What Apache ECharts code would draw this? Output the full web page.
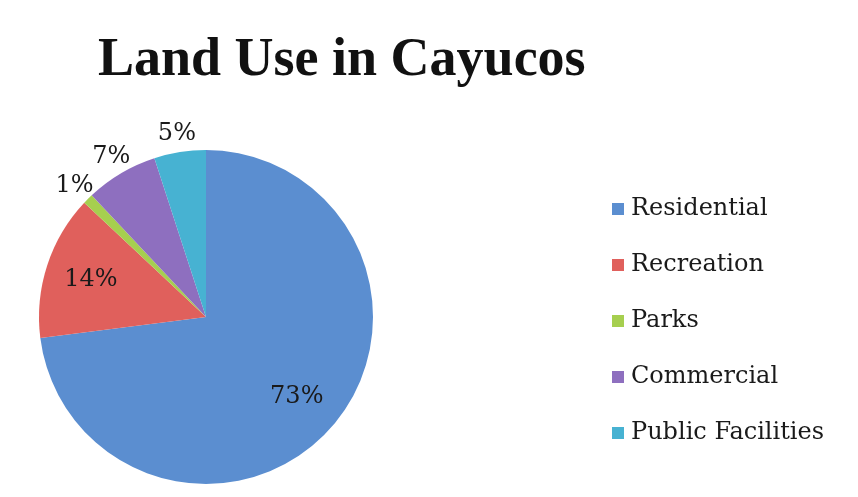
<!DOCTYPE html>
<html>
<head>
<meta charset="utf-8">
<script src="https://cdn.jsdelivr.net/npm/echarts@6/dist/echarts.min.js"></script>
<style>
html,body{margin:0;padding:0;background:#fff;}
#c{width:858px;height:497px;}
</style>
</head>
<body>
<div id="c"></div>
<script>
const titleText = 'Land Use in Cayucos';
const categories = ['Residential', 'Recreation', 'Parks', 'Commercial', 'Public Facilities'];
const values = [73, 14, 1, 7, 5];
const colors = ['#5b8ed0', '#e0605c', '#a6cf4f', '#8e6fbf', '#47b2d2'];
const insideLabelCats = ['Residential', 'Recreation'];

const chart = echarts.init(document.getElementById('c'));
const center = [206, 317];
const R = 167;
const labelFont = { fontFamily: 'DejaVu Serif', fontSize: 24, color: '#1a1a1a' };

function labelData(inside) {
  return categories.map((name, i) => ({
    name: name,
    value: values[i],
    label: { show: insideLabelCats.includes(name) === inside }
  }));
}

chart.setOption({
  backgroundColor: '#ffffff',
  animation: false,
  title: {
    text: titleText,
    left: 98,
    top: 34,
    padding: 0,
    textStyle: { fontFamily: 'Liberation Serif', fontWeight: 'bold', fontSize: 54, color: '#111' }
  },
  legend: {
    orient: 'vertical',
    left: 607,
    top: 192,
    icon: 'rect',
    itemWidth: 12,
    itemHeight: 12,
    itemGap: 32,
    data: categories,
    textStyle: { fontFamily: 'DejaVu Serif', fontSize: 24, color: '#1a1a1a', lineHeight: 24, padding: [0, 0, 0, 2] }
  },
  series: [
    {
      type: 'pie',
      center: center,
      radius: R,
      startAngle: 90,
      clockwise: true,
      silent: true,
      label: { show: false },
      labelLine: { show: false },
      itemStyle: { borderWidth: 0 },
      data: categories.map((name, i) => ({ name: name, value: values[i], itemStyle: { color: colors[i] } }))
    },
    {
      type: 'pie',
      center: center,
      radius: [0, 236],
      startAngle: 90,
      clockwise: true,
      silent: true,
      legendHoverLink: false,
      itemStyle: { color: 'rgba(0,0,0,0)' },
      label: Object.assign({ position: 'inside', formatter: '{c}%' }, labelFont),
      labelLine: { show: false },
      data: labelData(true)
    },
    {
      type: 'pie',
      center: center,
      radius: [0, 366],
      startAngle: 90,
      clockwise: true,
      silent: true,
      legendHoverLink: false,
      itemStyle: { color: 'rgba(0,0,0,0)' },
      label: Object.assign({ position: 'inside', formatter: '{c}%' }, labelFont),
      labelLine: { show: false },
      data: labelData(false)
    }
  ]
});
</script>
</body>
</html>
